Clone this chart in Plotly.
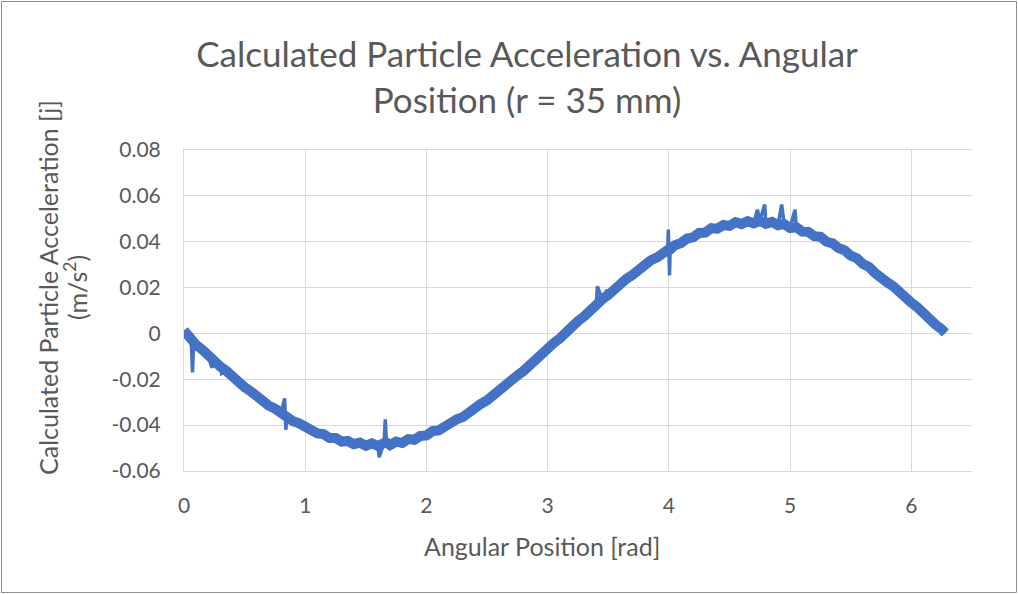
import plotly.graph_objects as go

# Angular position samples [rad] and measured acceleration [m/s^2]
angle = [
    0.00, 0.05, 0.06, 0.07, 0.08, 0.10, 0.15, 0.20, 0.23, 0.25, 0.30, 0.31, 0.35,
    0.40, 0.45, 0.50, 0.55, 0.60, 0.65, 0.70, 0.75, 0.80, 0.83, 0.84, 0.85,
    0.90, 0.95, 1.00, 1.05, 1.10, 1.15, 1.20, 1.25, 1.30, 1.35, 1.40, 1.45,
    1.50, 1.55, 1.60, 1.61, 1.65, 1.66, 1.67, 1.70, 1.75, 1.80, 1.85, 1.90,
    1.95, 2.00, 2.05, 2.10, 2.15, 2.20, 2.25, 2.30, 2.35, 2.40, 2.45, 2.50,
    2.55, 2.60, 2.65, 2.70, 2.75, 2.80, 2.85, 2.90, 2.95, 3.00, 3.05, 3.10,
    3.15, 3.20, 3.25, 3.30, 3.35, 3.40, 3.41, 3.45, 3.49, 3.50, 3.55, 3.60,
    3.65, 3.70, 3.75, 3.80, 3.85, 3.90, 3.95, 3.99, 3.995, 4.005, 4.01, 4.05,
    4.10, 4.15, 4.20, 4.25, 4.30, 4.35, 4.40, 4.45, 4.50, 4.55, 4.60, 4.65,
    4.70, 4.73, 4.75, 4.79, 4.80, 4.85, 4.90, 4.93, 4.95, 5.00, 5.04, 5.05,
    5.10, 5.15, 5.20, 5.25, 5.30, 5.35, 5.40, 5.45, 5.50, 5.55, 5.60, 5.65,
    5.70, 5.75, 5.80, 5.85, 5.90, 5.95, 6.00, 6.05, 6.10, 6.15, 6.20, 6.25,
    6.28,
]
acceleration = [
    0.0013, -0.0022, -0.0030, -0.0170, -0.0038, -0.0050, -0.0070, -0.0098, -0.0150, -0.0118, -0.0145, -0.0175, -0.0164,
    -0.0191, -0.0209, -0.0235, -0.0252, -0.0276, -0.0292, -0.0315, -0.0328, -0.0350, -0.0283, -0.0420, -0.0362,
    -0.0383, -0.0392, -0.0411, -0.0418, -0.0436, -0.0439, -0.0456, -0.0456, -0.0472, -0.0469, -0.0483, -0.0476,
    -0.0490, -0.0480, -0.0491, -0.0540, -0.0478, -0.0375, -0.0476, -0.0487, -0.0472, -0.0478, -0.0461, -0.0464,
    -0.0447, -0.0445, -0.0426, -0.0423, -0.0403, -0.0395, -0.0374, -0.0365, -0.0342, -0.0330, -0.0307, -0.0292,
    -0.0268, -0.0252, -0.0227, -0.0209, -0.0183, -0.0164, -0.0137, -0.0118, -0.0090, -0.0070, -0.0042, -0.0022,
    0.0006, 0.0026, 0.0054, 0.0074, 0.0102, 0.0122, 0.0205, 0.0149, 0.0190, 0.0168, 0.0195, 0.0213,
    0.0238, 0.0255, 0.0279, 0.0295, 0.0319, 0.0331, 0.0354, 0.0364, 0.0453, 0.0253, 0.0366, 0.0385,
    0.0394, 0.0414, 0.0419, 0.0438, 0.0440, 0.0459, 0.0457, 0.0473, 0.0469, 0.0485, 0.0477, 0.0490,
    0.0480, 0.0540, 0.0491, 0.0562, 0.0478, 0.0486, 0.0472, 0.0562, 0.0477, 0.0460, 0.0540, 0.0463,
    0.0444, 0.0443, 0.0424, 0.0421, 0.0400, 0.0393, 0.0372, 0.0362, 0.0339, 0.0328, 0.0303, 0.0290,
    0.0264, 0.0249, 0.0223, 0.0206, 0.0179, 0.0161, 0.0134, 0.0114, 0.0086, 0.0066, 0.0038, 0.0018,
    0.0002,
]

# Samples that are single-reading glitches (drawn only by the thin trace)
glitch_angles = [0.07, 0.23, 0.31, 0.83, 0.84, 1.61, 1.66, 3.41, 3.49,
                 3.995, 4.005, 4.73, 4.79, 4.93, 5.04]

x_ticks = [0, 1, 2, 3, 4, 5, 6]
y_ticks = [-0.06, -0.04, -0.02, 0, 0.02, 0.04, 0.06, 0.08]
y_tick_text = ["-0.06", "-0.04", "-0.02", "0", "0.02", "0.04", "0.06", "0.08"]

W, H = 1018, 594
L, R, T, B = 184, 46, 150, 123
FONT = "Lato"
TEXT = "#595959"
GRID = "#d9d9d9"
BLUE = "#4472C4"

pw = W - L - R
ph = H - T - B


def px_to_paper_x(px):
    return (px - L) / pw


def px_to_paper_y(py):
    return (H - B - py) / ph


band_x = [a for a in angle if a not in glitch_angles]
band_y = [v for a, v in zip(angle, acceleration) if a not in glitch_angles]

fig = go.Figure()
# full record as a thin line (keeps the glitch spikes narrow)
fig.add_trace(go.Scatter(
    x=angle, y=acceleration, mode="lines",
    line=dict(color=BLUE, width=3.5), showlegend=False, hoverinfo="skip",
))
# heavy band for the underlying signal
fig.add_trace(go.Scatter(
    x=band_x, y=band_y, mode="lines",
    line=dict(color=BLUE, width=10), showlegend=False,
))

fig.update_layout(
    width=W,
    height=H,
    margin=dict(l=L, r=R, t=T, b=B, pad=0),
    paper_bgcolor="white",
    plot_bgcolor="white",
    font=dict(family=FONT, color=TEXT),
    title=dict(
        text="Calculated Particle Acceleration vs. Angular<br>Position (r = 35 mm)",
        x=527 / W,
        xref="container",
        xanchor="center",
        y=1 - 67 / H,
        yref="container",
        yanchor="middle",
        font=dict(family=FONT, size=35, color=TEXT),
    ),
)

fig.update_xaxes(
    range=[0, 6.5],
    tickvals=x_ticks,
    ticktext=[str(v) for v in x_ticks],
    showgrid=True,
    gridcolor=GRID,
    gridwidth=1,
    zeroline=False,
    showline=True,
    linecolor=GRID,
    linewidth=1,
    mirror=True,
    ticks="",
    ticklabelstandoff=16,
    tickfont=dict(size=21, color=TEXT),
)

fig.update_yaxes(
    range=[-0.06, 0.08],
    tickvals=y_ticks,
    ticktext=y_tick_text,
    showgrid=True,
    gridcolor=GRID,
    gridwidth=1,
    zeroline=False,
    showline=True,
    linecolor=GRID,
    linewidth=1,
    ticks="",
    ticklabelstandoff=18,
    tickfont=dict(size=21, color=TEXT),
)

# Axis titles
fig.add_annotation(
    text="Angular Position [rad]",
    xref="paper", yref="paper",
    x=px_to_paper_x(542), y=px_to_paper_y(546),
    xanchor="center", yanchor="middle",
    showarrow=False,
    font=dict(family=FONT, size=25, color=TEXT),
)
fig.add_annotation(
    text="Calculated Particle Acceleration [j]",
    xref="paper", yref="paper",
    x=px_to_paper_x(48), y=px_to_paper_y(288),
    xanchor="center", yanchor="middle",
    textangle=-90,
    showarrow=False,
    font=dict(family=FONT, size=25, color=TEXT),
)
fig.add_annotation(
    text="(m/s<sup>2</sup>)",
    xref="paper", yref="paper",
    x=px_to_paper_x(75), y=px_to_paper_y(288),
    xanchor="center", yanchor="middle",
    textangle=-90,
    showarrow=False,
    font=dict(family=FONT, size=25, color=TEXT),
)

# Thin frame around the whole chart area
fig.add_shape(
    type="rect",
    xref="paper",
    yref="paper",
    x0=px_to_paper_x(1.5),
    x1=px_to_paper_x(1016.5),
    y0=px_to_paper_y(592.5),
    y1=px_to_paper_y(1.5),
    line=dict(color="#8c8c8c", width=1),
    fillcolor="rgba(0,0,0,0)",
    layer="above",
)

fig.write_html("out.html")
